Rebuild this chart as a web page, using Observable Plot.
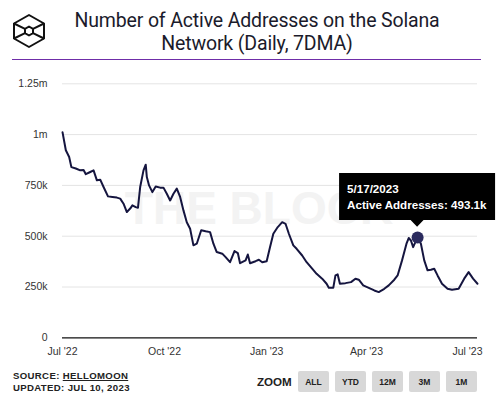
<!DOCTYPE html>
<html><head><meta charset="utf-8">
<script src="https://cdn.jsdelivr.net/npm/d3@7"></script>
<script src="https://cdn.jsdelivr.net/npm/@observablehq/plot@0.6"></script>
<style>
body{margin:0;background:#fff;width:497px;height:399px;position:relative;overflow:hidden;font-family:"Liberation Sans",Arial,sans-serif;}
#logo{position:absolute;left:11px;top:13px;}
#title{position:absolute;left:0;width:514px;top:9px;text-align:center;font-family:Roboto,sans-serif;font-size:19.5px;line-height:23px;color:#1b1b2b;letter-spacing:-0.15px}
#rule{position:absolute;left:12px;top:58.5px;width:469px;height:1.5px;background:#6f2da8}
#chart{position:absolute;left:0;top:62px}
.foot{position:absolute;left:13px;font-weight:bold;font-size:9.6px;color:#222;letter-spacing:0.35px}
.foot u{text-decoration:underline}
#zoomlbl{position:absolute;left:257px;top:375px;font-weight:bold;font-size:11.6px;color:#222}
.btn{position:absolute;top:371px;height:21px;width:31px;background:#d8d8d8;border-radius:2px;font-weight:bold;font-size:8.5px;color:#222;text-align:center;line-height:23px}
</style></head>
<body>
<svg id="logo" width="36" height="36" viewBox="0 0 36 36">
  <g fill="none" stroke="#111" stroke-width="2" stroke-linejoin="round">
    <polygon points="18,2 33,10.5 33,25.5 18,34 3,25.5 3,10.5"/>
    <polygon points="18,13.5 22,15.8 22,20.2 18,22.5 14,20.2 14,15.8"/>
    <path d="M3,10.5 L14,15.8 M33,10.5 L22,15.8 M3,25.5 L14,20.2 M33,25.5 L22,20.2"/>
  </g>
</svg>
<div id="title">Number of Active Addresses on the Solana<br>Network (Daily, 7DMA)</div>
<div id="rule"></div>
<div id="chart"></div>
<div class="foot" style="top:370px">SOURCE: <u>HELLOMOON</u></div>
<div class="foot" style="top:382px">UPDATED: JUL 10, 2023</div>
<div id="zoomlbl">ZOOM</div>
<div id="btns"></div>
<script>
// ---- data (active addresses, thousands, 7-day moving average) ----
const dates = ["2022-07-01","2022-07-04","2022-07-07","2022-07-09","2022-07-13","2022-07-17","2022-07-20","2022-07-22","2022-07-26","2022-07-29",
"2022-08-01","2022-08-04","2022-08-07","2022-08-11","2022-08-15","2022-08-19","2022-08-22","2022-08-25","2022-08-28","2022-08-31",
"2022-09-02","2022-09-05","2022-09-07","2022-09-09","2022-09-12","2022-09-14","2022-09-15","2022-09-17","2022-09-20","2022-09-23",
"2022-09-27","2022-09-30","2022-10-03","2022-10-06","2022-10-09","2022-10-12","2022-10-15","2022-10-18","2022-10-21","2022-10-24",
"2022-10-27","2022-10-30","2022-11-03","2022-11-07","2022-11-11","2022-11-14","2022-11-17","2022-11-22","2022-11-25","2022-11-29",
"2022-12-03","2022-12-06","2022-12-08","2022-12-13","2022-12-15","2022-12-17","2022-12-22","2022-12-25","2022-12-28","2023-01-01",
"2023-01-04","2023-01-07","2023-01-11","2023-01-15","2023-01-18","2023-01-21","2023-01-25","2023-01-28","2023-02-02","2023-02-06",
"2023-02-11","2023-02-15","2023-02-20","2023-02-24","2023-02-26","2023-03-02","2023-03-04","2023-03-06","2023-03-08","2023-03-13",
"2023-03-18","2023-03-22","2023-03-25","2023-03-29","2023-04-03","2023-04-08","2023-04-12","2023-04-17","2023-04-21","2023-04-26",
"2023-04-29","2023-05-03","2023-05-07","2023-05-09","2023-05-11","2023-05-13","2023-05-15","2023-05-17","2023-05-20","2023-05-23",
"2023-05-26","2023-05-29","2023-06-01","2023-06-04","2023-06-08","2023-06-13","2023-06-17","2023-06-23","2023-06-28","2023-07-02",
"2023-07-06","2023-07-10"];
const activeK = [1012,923,890,840,833,824,826,805,816,824,
775,778,742,696,693,690,685,660,619,636,
652,643,640,742,824,852,791,750,717,745,
739,739,709,676,709,734,693,627,569,537,
455,463,529,524,520,463,422,414,397,372,
427,417,367,381,410,367,377,384,372,377,
446,512,545,569,561,512,455,438,405,372,
340,315,291,266,246,246,307,312,266,269,
274,291,286,258,246,233,225,241,258,286,
307,381,463,491,479,446,471,493.1,463,381,
332,335,340,307,266,241,236,241,291,323,
291,266];
const highlightDate = "2023-05-17";
const highlightLabel = "5/17/2023";
const highlightValue = 493.1;
const yTicks = [0,250,500,750,1000,1250];
const yTickLabels = ["0","250k","500k","750k","1m","1.25m"];
const xTickDates = ["2022-07-01","2022-10-01","2023-01-01","2023-04-01","2023-07-01"];
const xTickLabels = ["Jul '22","Oct '22","Jan '23","Apr '23","Jul '23"];
const zoomButtons = ["ALL","YTD","12M","3M","1M"];
const domainStart = "2022-07-01", domainEnd = "2023-07-10";

const data = dates.map((d,i)=>({date:new Date(d+"T00:00:00Z"), value:activeK[i]}));
const hl = [{date:new Date(highlightDate+"T00:00:00Z"), value:highlightValue}];
const xt = xTickDates.map(d=>new Date(d+"T00:00:00Z"));

function tooltip(index, scales) {
  const px = scales.x(hl[0].date), py = scales.y(hl[0].value);
  const w = 156, h = 47, bottom = py - 17, left = px - w/2;
  const g = d3.create("svg:g");
  g.append("path")
    .attr("d", `M${left},${bottom-h}h${w}v${h}H${px+6.5}l-6.5,6.7l-6.5,-6.7H${left}Z`)
    .attr("fill", "#000");
  const t = g.append("g").attr("fill","#fff").attr("font-weight","bold").attr("font-size","11.6px")
    .attr("text-anchor","start")
    .attr("font-family","Liberation Sans, Arial, sans-serif");
  t.append("text").attr("x", left+8).attr("y", bottom-27.5).text(highlightLabel);
  t.append("text").attr("x", left+8).attr("y", bottom-10.7).text(`Active Addresses: ${highlightValue}k`);
  return g.node();
}

const chart = Plot.plot({
  width: 497, height: 300,
  marginLeft: 62, marginRight: 20, marginTop: 21.3, marginBottom: 24.7,
  style: {fontFamily: "Liberation Sans, Arial, sans-serif", fontSize: "10.5px", color: "#333", background: "transparent", overflow: "visible"},
  x: {type: "utc", domain: [new Date(domainStart+"T00:00:00Z"), new Date(domainEnd+"T00:00:00Z")], ticks: xt,
      tickFormat: d => xTickLabels[xt.findIndex(t => +t === +d)], tickSize: 0, tickPadding: 10, label: null},
  y: {domain: [0, 1250], ticks: yTicks, tickFormat: d => yTickLabels[yTicks.indexOf(d)], tickSize: 0, tickPadding: 15, label: null},
  marks: [
    Plot.ruleY(yTicks.filter(d => d > 0), {stroke: "#e4e4e4", strokeWidth: 1}),
    Plot.text(["THE BLOCK"], {text: d => d, frameAnchor: "middle", dx: -11, dy: -2, fontSize: 46, fontWeight: "bold", fill: "#f3f3f3", fontFamily: "Liberation Sans, Arial, sans-serif"}),
    Plot.ruleY([0], {stroke: "#111", strokeWidth: 1.3}),
    Plot.line(data, {x: "date", y: "value", stroke: "#15153f", strokeWidth: 2, curve: "linear"}),
    Plot.dot(hl, {x: "date", y: "value", r: 6, fill: "#2b2b5e", stroke: "none"}),
    tooltip
  ]
});
document.getElementById("chart").appendChild(chart);

const lefts = [298, 335, 372, 409, 446];
const btns = document.getElementById("btns");
zoomButtons.forEach((b,i)=>{
  const el = document.createElement("div");
  el.className = "btn"; el.style.left = lefts[i]+"px"; el.textContent = b;
  btns.appendChild(el);
});
</script>
</body></html>
